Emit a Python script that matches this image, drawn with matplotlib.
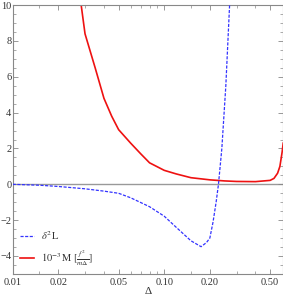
import matplotlib
matplotlib.use("Agg")
import matplotlib.pyplot as plt
from matplotlib.ticker import FixedLocator, FixedFormatter, MultipleLocator

# data
red_x = [0.0275, 0.0283, 0.030, 0.035, 0.040, 0.045, 0.050, 0.060, 0.070, 0.080,
         0.100, 0.120, 0.150, 0.200, 0.250, 0.300, 0.400, 0.500, 0.530, 0.560,
         0.580, 0.600, 0.610]
red_y = [11.0, 10.0, 8.4, 6.5, 4.8, 3.8, 3.05, 2.3, 1.7, 1.2,
         0.78, 0.58, 0.37, 0.25, 0.19, 0.16, 0.15, 0.22, 0.33, 0.62,
         1.0, 1.8, 2.3]
blue_x = [0.010, 0.015, 0.020, 0.030, 0.040, 0.050, 0.060, 0.080, 0.100, 0.120,
          0.150, 0.175, 0.190, 0.200, 0.210, 0.220, 0.228, 0.240, 0.255, 0.270, 0.275]
blue_y = [0.0, -0.05, -0.12, -0.25, -0.38, -0.5, -0.75, -1.25, -1.78, -2.4,
          -3.15, -3.48, -3.25, -3.0, -2.1, -1.0, 0.0, 2.0, 5.5, 10.0, 11.5]
xticks = [0.01, 0.02, 0.05, 0.10, 0.20, 0.50]
xticklabels = ["0.01", "0.02", "0.05", "0.10", "0.20", "0.50"]
yticks = [-4, -2, 0, 2, 4, 6, 8, 10]

plt.rcParams['font.family'] = ['Liberation Serif', 'DejaVu Serif']
plt.rcParams['mathtext.fontset'] = 'stix'

fig = plt.figure(figsize=(2.83, 3.02), dpi=100)
ax = fig.add_axes([0.045, 0.093, 0.955, 0.89])

ax.axhline(0, color='#999999', lw=1.0, zorder=1)
ax.plot(blue_x, blue_y, color='#3333ff', lw=0.9, ls=(0, (2.5, 1.2)), label=r'$\delta^2\mathrm{L}$', zorder=3)
ax.plot(red_x, red_y, color='#ee1111', lw=1.2, label=r'$10^{-3}\,\mathrm{M}\;[\frac{f^2}{m\Delta}]$', zorder=2)

ax.set_xscale('log')
ax.set_xlim(0.01, 0.608)
ax.set_ylim(-5, 10)

ax.xaxis.set_major_locator(FixedLocator(xticks))
ax.xaxis.set_major_formatter(FixedFormatter(xticklabels))
minor_x = [0.015, 0.03, 0.04, 0.06, 0.07, 0.08, 0.09, 0.15, 0.3, 0.4]
ax.xaxis.set_minor_locator(FixedLocator(minor_x))
ax.xaxis.set_minor_formatter(FixedFormatter([""] * len(minor_x)))
ax.yaxis.set_major_locator(FixedLocator(yticks))
ax.yaxis.set_minor_locator(MultipleLocator(0.5))

for s in ax.spines.values():
    s.set_color('#888888')
    s.set_linewidth(0.8)
ax.tick_params(which='both', direction='in', colors='#888888', labelcolor='#333333',
               labelsize=7.5, top=True, right=True)
ax.tick_params(which='major', length=3.5, width=0.6)
ax.tick_params(which='minor', length=2, width=0.5)
ax.tick_params(axis='y', pad=1)
ax.tick_params(axis='x', pad=3)

ax.set_xlabel('Δ', fontsize=8, color='#333333', labelpad=0)

leg = ax.legend(loc='lower left', frameon=False, fontsize=7.5, handlelength=1.3,
                handletextpad=0.7, borderaxespad=0.3, labelspacing=0.6,
                bbox_to_anchor=(0.0, -0.005))
for t in leg.get_texts():
    t.set_color('#333333')

fig.savefig('out.png', dpi=100)
